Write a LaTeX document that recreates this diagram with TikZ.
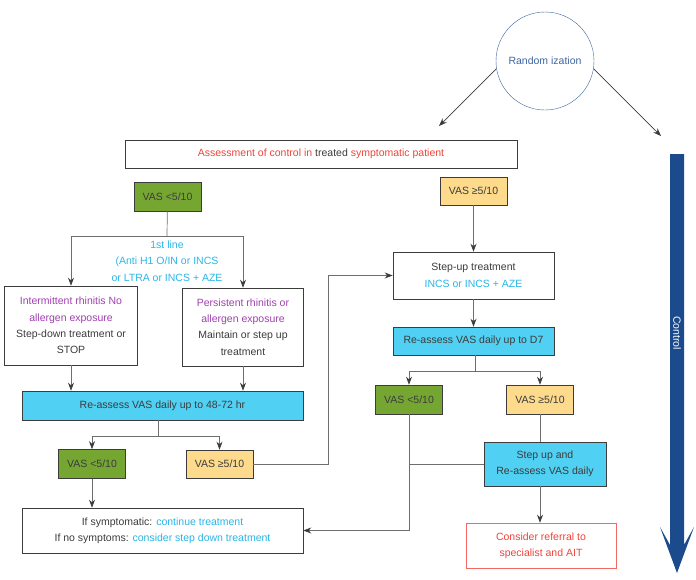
\documentclass[tikz,border=0pt]{standalone}
\usepackage{fontspec}
\setmainfont{Liberation Sans}
\usepackage{xcolor}
\usepackage{tikz}
\usetikzlibrary{positioning, arrows.meta, calc}

\definecolor{txtgray}{RGB}{60,60,60}
\definecolor{linegray}{RGB}{110,110,110}
\definecolor{lowgreen}{RGB}{118,166,50}
\definecolor{highyellow}{RGB}{253,218,140}
\definecolor{reacyan}{RGB}{80,208,242}
\definecolor{drugcyan}{RGB}{41,182,232}
\definecolor{typepurple}{RGB}{160,64,176}
\definecolor{alertred}{RGB}{238,68,58}
\definecolor{randblue}{RGB}{61,100,160}
\definecolor{ctrlblue}{RGB}{27,75,140}

\begin{document}
\begin{tikzpicture}[
    x=1pt, y=-1pt,
    >={Stealth[length=8pt, width=6pt, color=txtgray]},
    every node/.style={font=\fontsize{10.5}{16.4}\selectfont, text=txtgray},
    box/.style    ={draw=txtgray, rectangle, inner sep=0pt, align=center, line width=0.6pt},
    plain/.style  ={box, fill=white},
    low/.style    ={box, fill=lowgreen, minimum width=67, minimum height=29},
    high/.style   ={box, fill=highyellow, minimum width=67, minimum height=28},
    rea/.style    ={box, fill=reacyan},
    link/.style   ={draw=linegray, line width=0.7pt},
]
\useasboundingbox (0,0) rectangle (696,579);

% Randomization
\node[draw=randblue, circle, minimum size=98, inner sep=0pt, text=randblue] (rand) at (545,61) {Random ization};
\coordinate (armL) at (439,126);
\coordinate (armR) at (661,136);
\draw[->, link, draw=txtgray] (rand.189) -- (armL);
\draw[->, link, draw=txtgray] (rand.351) -- (armR);

\node[plain, minimum width=392, minimum height=28] (assess) at (321,154)
    {\textcolor{alertred}{Assessment of control in} \textcolor{txtgray}{treated} \textcolor{alertred}{symptomatic patient}};

% Left branch
\node[low]  (vlo1) at (167.5,196.5) {VAS <5/10};
\node[plain, minimum width=133, minimum height=79] (inter) at (71,325.5)
    {\textcolor{typepurple}{Intermittent rhinitis No}\\\textcolor{typepurple}{allergen exposure}\\Step-down treatment or\\STOP};
\node[plain, minimum width=121, minimum height=78] (pers) at (243,327)
    {\textcolor{typepurple}{Persistent rhinitis or}\\\textcolor{typepurple}{allergen exposure}\\Maintain or step up\\treatment};
\node[text=drugcyan, align=center] (first) at (167,261)
    {1st line\\(Anti H1 O/IN or INCS\\or LTRA or INCS + AZE};
\node[rea, minimum width=281, minimum height=29] (rea1) at (162.5,405.5) {Re-assess VAS daily up to 48-72 hr};
\node[low]  (vlo2) at (92,464) {VAS <5/10};
\node[high] (vhi2) at (219.5,464) {VAS ≥5/10};
\node[plain, minimum width=281, minimum height=45] (cont) at (162.5,530.5)
    {If symptomatic: \textcolor{drugcyan}{continue treatment}\\If no symptoms: \textcolor{drugcyan}{consider step down treatment}};

% Right branch
\node[high] (vhi1) at (473.5,191) {VAS ≥5/10};
\node[plain, minimum width=161, minimum height=47] (stepup) at (473.5,275.5)
    {Step-up treatment\\\textcolor{drugcyan}{INCS or INCS + AZE}};
\node[rea, minimum width=161, minimum height=28] (rea2) at (473.5,341) {Re-assess VAS daily up to D7};
\node[low]  (vlo3) at (409,399.5) {VAS <5/10};
\node[high, minimum height=29] (vhi3) at (540,399.5) {VAS ≥5/10};
\node[rea, minimum width=122, minimum height=44] (stepre) at (545,464) {Step up and\\Re-assess VAS daily};
\node[plain, draw=alertred!80, text=alertred, minimum width=150, minimum height=45] (refer) at (541,545.5)
    {Consider referral to\\specialist and AIT};

\coordinate (fork1) at (167,236);
\coordinate (fork2) at (158,436);
\coordinate (fork3) at (475,371);

\draw[link] (vlo1) -- (fork1);
\draw[->, link] (fork1) -| (inter.north);
\draw[->, link] (fork1) -| (pers.north);
\draw[->, link] (inter) -- (inter |- rea1.north);
\draw[->, link] (pers)  -- (pers |- rea1.north);
\draw[link] (rea1.south -| fork2) -- (fork2);
\draw[->, link] (fork2) -| (vlo2.north);
\draw[->, link] (fork2) -| (vhi2.north);
\draw[->, link] (vlo2) -- (vlo2 |- cont.north);
\draw[->, link] (vhi2.east) -- ++(75,0) |- (stepup.west);

\draw[->, link] (vhi1) -- (stepup);
\draw[->, link] (stepup) -- (rea2);
\draw[link] (rea2.south -| fork3) -- (fork3);
\draw[->, link] (fork3) -| (vlo3.north);
\draw[->, link] (fork3) -| (vhi3.north);
\draw[->, link] (vlo3.south) |- (cont.east);
\draw[link] (stepre.west) -- (stepre.west -| vlo3);
\draw[link] (vhi3.south) -- (vhi3.south |- stepre.north);
\draw[->, link] (stepre.south -| vhi3) -- (vhi3 |- refer.north);

% Control arrow
\fill[ctrlblue] (670,154) -- (684,154) -- (684,545) -- (694,527) -- (677,573)
    -- (660,527) -- (670,545) -- cycle;
\node[rotate=-90, text=white] (ctrl) at (677,333) {Control};

\end{tikzpicture}
\end{document}
